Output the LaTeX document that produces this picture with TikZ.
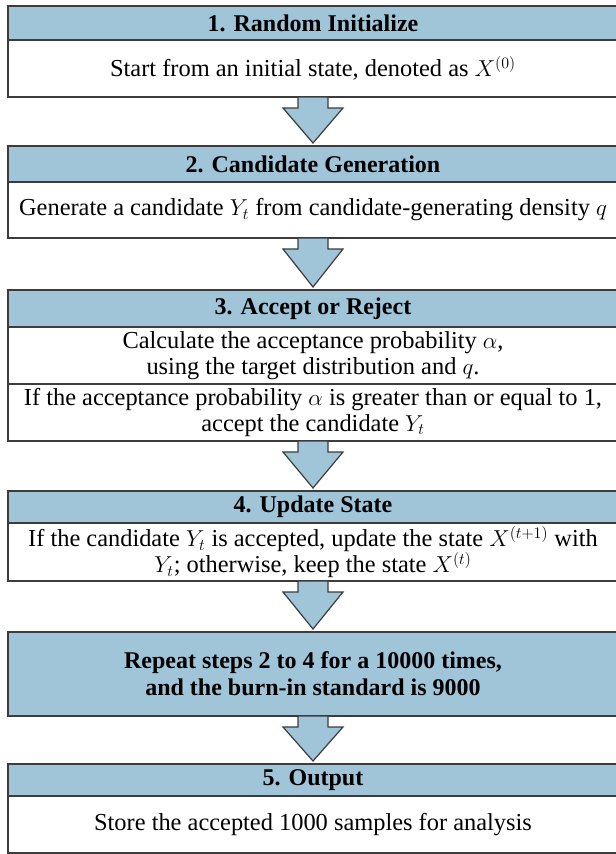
\documentclass[tikz,border=0pt]{standalone}
\usepackage{fontspec}
\setmainfont{Liberation Serif}
\usetikzlibrary{calc,positioning}
\definecolor{headblue}{RGB}{160,196,216}
\definecolor{edgegray}{RGB}{60,60,60}
\begin{document}
\begin{tikzpicture}
[x=0.75pt,y=-0.75pt,
  boxdecorate/.style={shape=rectangle,draw=edgegray,line width=1.1pt,outer sep=0pt,
    inner sep=1pt,minimum width=457.5pt,align=center,font=\fontsize{18.3}{19.5}\selectfont},%
  headdecorate/.style={boxdecorate,fill=headblue,font=\fontsize{18}{20.5}\selectfont\bfseries},%
  bodydecorate/.style={boxdecorate,fill=white},%
  arrowdecorate/.style={draw=edgegray,line width=0.9pt,fill=headblue,line join=miter}]
\useasboundingbox (0,0) rectangle (615,854);
%% headers and bodies
\foreach \nodename/\y/\h/\kind/\content in {
  h1/6/34/headdecorate/{1. Random Initialize},
  b1/40/57/bodydecorate/{Start from an initial state, denoted as $X^{(0)}$},
  h2/146/36/headdecorate/{2. Candidate Generation},
  b2/182/56/bodydecorate/{Generate a candidate $Y_t$ from candidate-generating density $q$},
  h3/290/37/headdecorate/{3. Accept or Reject},
  b3a/327/57/bodydecorate/{Calculate the acceptance probability $\alpha$,\\ using the target distribution and $q$.},
  b3b/384/57/bodydecorate/{If the acceptance probability $\alpha$ is greater than or equal to 1,\\ accept the candidate $Y_t$},
  h4/491/32/headdecorate/{4. Update State},
  b4/523/58/bodydecorate/{If the candidate $Y_t$ is accepted, update the state $X^{(t+1)}$ with\\ $Y_t$; otherwise, keep the state $X^{(t)}$},
  rep/632/84/headdecorate/{Repeat steps 2 to 4 for a 10000 times,\\ and the burn-in standard is 9000},
  h5/764/32/headdecorate/{5. Output},
  b5/796/57/bodydecorate/{Store the accepted 1000 samples for analysis}}
{
  \node (\nodename) at (313,\y) [\kind,anchor=north,minimum height=\h*0.75pt] {\content};
}
%% block arrows
\foreach \startnode/\endnode in {b1/h2, b2/h3, b3b/h4, b4/rep, rep/h5} {
  \draw[arrowdecorate] ($(\startnode.south)+(-15,0)$) -- ++(0,11) -- ++(-15,0)
    -- ($(\endnode.north)+(0,-3)$) -- ($(\startnode.south)+(30,11)$) -- ++(-15,0)
    -- ($(\startnode.south)+(15,0)$) -- cycle;
}
\end{tikzpicture}
\end{document}
